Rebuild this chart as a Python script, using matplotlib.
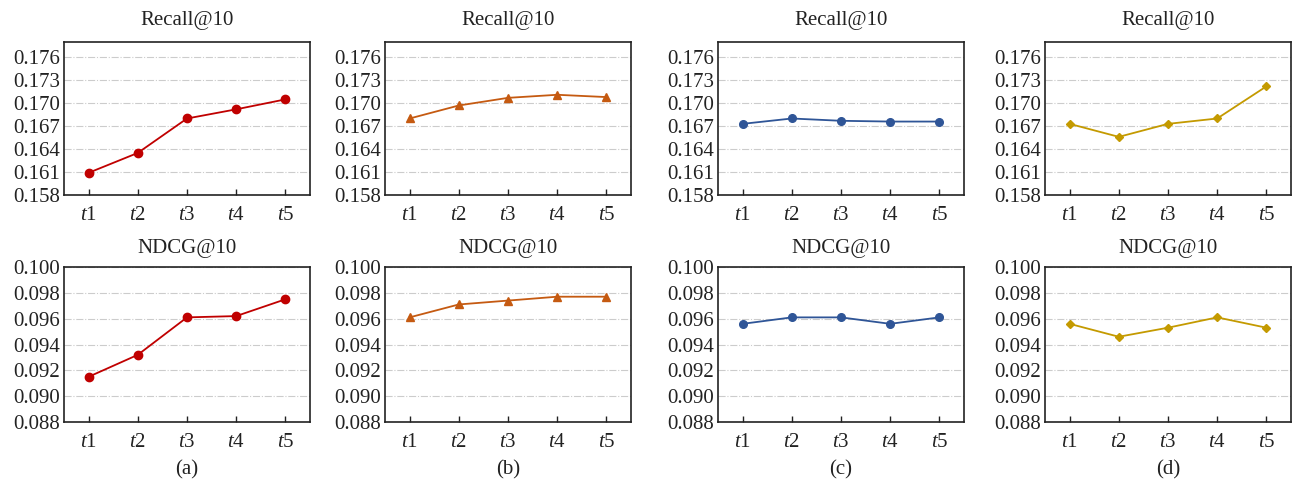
import matplotlib
matplotlib.use('Agg')
import matplotlib.pyplot as plt
import numpy as np

plt.rcParams['font.family'] = ['Liberation Serif', 'DejaVu Serif']
plt.rcParams['mathtext.fontset'] = 'custom'
plt.rcParams['mathtext.it'] = 'Liberation Serif:italic'
plt.rcParams['mathtext.rm'] = 'Liberation Serif'

steps = ['$t$1', '$t$2', '$t$3', '$t$4', '$t$5']

# recall@10 per panel
recall_a = [0.1609, 0.1635, 0.1680, 0.1692, 0.1705]
recall_b = [0.1680, 0.1697, 0.1707, 0.1711, 0.1708]
recall_c = [0.1673, 0.1680, 0.1677, 0.1676, 0.1676]
recall_d = [0.1673, 0.1656, 0.1673, 0.1680, 0.1722]

# ndcg@10 per panel
ndcg_a = [0.0915, 0.0932, 0.0961, 0.0962, 0.0975]
ndcg_b = [0.0961, 0.0971, 0.0974, 0.0977, 0.0977]
ndcg_c = [0.0956, 0.0961, 0.0961, 0.0956, 0.0961]
ndcg_d = [0.0956, 0.0946, 0.0953, 0.0961, 0.0953]

recall_ticks = [0.158, 0.161, 0.164, 0.167, 0.170, 0.173, 0.176]
ndcg_ticks = [0.088, 0.090, 0.092, 0.094, 0.096, 0.098, 0.100]
panel_names = ['(a)', '(b)', '(c)', '(d)']

colors = ['#C00000', '#C55A11', '#2F5597', '#C49A00']
markers = ['o', '^', 'o', 'D']
msizes = [6, 6, 5.5, 4.5]

recalls = [recall_a, recall_b, recall_c, recall_d]
ndcgs = [ndcg_a, ndcg_b, ndcg_c, ndcg_d]

W, H = 1300, 480
fig = plt.figure(figsize=(13, 4.8), dpi=100)

lefts = [64, 385, 718, 1045]
aw = 246
top_row = (42, 195)
bot_row = (267, 422)


def style(ax, ticks, ylim):
    x = np.arange(1, 6)
    ax.set_xlim(0.5, 5.5)
    ax.set_ylim(*ylim)
    ax.set_xticks(x)
    ax.set_xticklabels(steps)
    ax.set_yticks(ticks)
    ax.set_yticklabels(['%.3f' % t for t in ticks])
    ax.tick_params(axis='y', length=0, pad=3, labelsize=15, colors='#222222')
    ax.tick_params(axis='x', length=4, width=1, direction='in', pad=8, labelsize=15, colors='#222222')
    ax.grid(axis='y', linestyle='-.', color='#cccccc', linewidth=0.8)
    ax.set_axisbelow(True)
    for s in ax.spines.values():
        s.set_linewidth(1.2)
        s.set_color('#222222')


for i in range(4):
    l = lefts[i] / W
    w = aw / W
    ax1 = fig.add_axes([l, 1 - top_row[1] / H, w, (top_row[1] - top_row[0]) / H])
    ax1.plot(np.arange(1, 6), recalls[i], color=colors[i], marker=markers[i],
             markersize=msizes[i], linewidth=1.3)
    style(ax1, recall_ticks, (0.158, 0.178))
    ax1.set_title('Recall@10', fontsize=15, pad=12, color='#222222')

    ax2 = fig.add_axes([l, 1 - bot_row[1] / H, w, (bot_row[1] - bot_row[0]) / H])
    ax2.plot(np.arange(1, 6), ndcgs[i], color=colors[i], marker=markers[i],
             markersize=msizes[i], linewidth=1.3)
    style(ax2, ndcg_ticks, (0.088, 0.100))
    ax2.set_title('NDCG@10', fontsize=15, pad=10, color='#222222')
    ax2.text(0.5, -0.31, panel_names[i], transform=ax2.transAxes, ha='center',
             va='center', fontsize=15, color='#222222')

fig.savefig('out.png', dpi=100)
